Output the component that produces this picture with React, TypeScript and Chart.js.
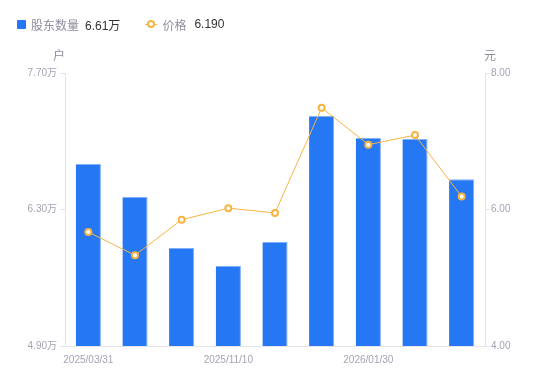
import React, { useEffect, useRef } from "react";
import { Chart, registerables } from "chart.js";

Chart.register(...registerables);

const categories = [
  "2025/03/31",
  "2025/06/30",
  "2025/09/30",
  "2025/11/10",
  "2025/11/30",
  "2025/12/31",
  "2026/01/30",
  "2026/02/28",
  "2026/03/10",
];
const holders = [6.767, 6.428, 5.905, 5.721, 5.967, 7.259, 7.033, 7.023, 6.61];
const prices = [5.67, 5.33, 5.85, 6.02, 5.95, 7.49, 6.95, 7.09, 6.19];
const leftTicks = [4.9, 6.3, 7.7];
const rightTicks = [4, 6, 8];
const shownLabelIdx = [0, 3, 6];

const FONT = '"Liberation Sans", "Noto Sans CJK SC", sans-serif';
const TICK_COLOR = "#a3a3b5";
const AXIS_COLOR = "#e3e3e8";
const BAR_COLOR = "#2677f3";
const LINE_COLOR = "#f7b443";

const unitPlugin = {
  id: "units",
  afterDraw(chart: any) {
    const ctx = chart.ctx;
    const a = chart.chartArea;
    ctx.save();
    ctx.font = `12px ${FONT}`;
    ctx.fillStyle = "#8e8e9e";
    ctx.textBaseline = "middle";
    ctx.textAlign = "center";
    ctx.fillText("户", a.left - 6, 57);
    ctx.fillText("元", a.right + 5, 57);
    ctx.restore();
  },
};

export default function App() {
  const ref = useRef<HTMLCanvasElement>(null);
  useEffect(() => {
    if (!ref.current) return;
    const chart = new Chart(ref.current, {
      type: "bar",
      data: {
        labels: categories,
        datasets: [
          {
            type: "line",
            label: "价格",
            data: prices,
            yAxisID: "y1",
            borderColor: LINE_COLOR,
            borderWidth: 1,
            pointRadius: 3,
            pointBorderWidth: 2,
            pointBackgroundColor: "#ffffff",
            pointBorderColor: LINE_COLOR,
            tension: 0,
            order: 0,
          } as any,
          {
            type: "bar",
            label: "股东数量",
            data: holders,
            yAxisID: "y",
            backgroundColor: BAR_COLOR,
            borderColor: "#7fb0fb",
            borderWidth: { left: 0, right: 1, top: 1, bottom: 0 },
            categoryPercentage: 1,
            barPercentage: 0.54,
            order: 1,
          } as any,
        ],
      },
      options: {
        responsive: false,
        animation: false,
        layout: { padding: { top: 73, left: 0, right: 0, bottom: 0 } },
        plugins: { legend: { display: false }, tooltip: { enabled: false } },
        scales: {
          x: {
            grid: { display: false },
            border: { display: true, color: AXIS_COLOR },
            ticks: {
              autoSkip: false,
              maxRotation: 0,
              color: TICK_COLOR,
              font: { size: 10, family: FONT },
              padding: 0,
              callback: (v: any, i: number) =>
                shownLabelIdx.includes(i) ? categories[i] : "",
            },
            afterFit: (s: any) => {
              s.height = 35;
            },
          },
          y: {
            position: "left",
            min: 4.9,
            max: 7.7,
            afterBuildTicks: (s: any) => {
              s.ticks = leftTicks.map((v) => ({ value: v }));
            },
            grid: {
              display: true,
              drawOnChartArea: false,
              drawTicks: true,
              tickLength: 5,
              color: AXIS_COLOR,
            },
            border: { display: true, color: AXIS_COLOR },
            ticks: {
              color: TICK_COLOR,
              font: { size: 10, family: FONT },
              padding: 3,
              callback: (v: any) => Number(v).toFixed(2) + "万",
            },
            afterFit: (s: any) => {
              s.width = 65;
            },
          },
          y1: {
            position: "right",
            min: 4,
            max: 8,
            afterBuildTicks: (s: any) => {
              s.ticks = rightTicks.map((v) => ({ value: v }));
            },
            grid: {
              display: true,
              drawOnChartArea: false,
              drawTicks: true,
              tickLength: 5,
              color: AXIS_COLOR,
            },
            border: { display: true, color: AXIS_COLOR },
            ticks: {
              color: TICK_COLOR,
              font: { size: 10, family: FONT },
              padding: 1,
              callback: (v: any) => Number(v).toFixed(2),
            },
            afterFit: (s: any) => {
              s.width = 65;
            },
          },
        },
      },
      plugins: [unitPlugin],
    });
    return () => chart.destroy();
  }, []);

  return (
    <div
      style={{
        position: "fixed",
        left: 0,
        top: 0,
        width: 550,
        height: 381,
        background: "#fff",
        fontFamily: FONT,
      }}
    >
      <div
        style={{
          position: "absolute",
          left: 17,
          top: 15,
          height: 18,
          display: "flex",
          alignItems: "center",
          fontSize: 12,
          whiteSpace: "nowrap",
        }}
      >
        <span
          style={{
            display: "inline-block",
            width: 9,
            height: 9,
            background: BAR_COLOR,
            borderRadius: 1,
            marginRight: 5,
          }}
        />
        <span style={{ color: "#8e8e9e" }}>股东数量</span>
        <span style={{ color: "#333", marginLeft: 6 }}>6.61万</span>
        <span
          style={{
            position: "relative",
            display: "inline-block",
            width: 12,
            height: 9,
            marginLeft: 25,
            marginRight: 5,
          }}
        >
          <span
            style={{
              position: "absolute",
              left: 0,
              right: 0,
              top: 4,
              height: 1,
              background: LINE_COLOR,
            }}
          />
          <span
            style={{
              position: "absolute",
              left: 2,
              top: 0.5,
              width: 4,
              height: 4,
              border: `2px solid ${LINE_COLOR}`,
              borderRadius: "50%",
              background: "#fff",
            }}
          />
        </span>
        <span style={{ color: "#8e8e9e" }}>价格</span>
        <span style={{ color: "#333", marginLeft: 8 }}>6.190</span>
      </div>
      <canvas ref={ref} width={550} height={381} style={{ display: "block" }} />
    </div>
  );
}
